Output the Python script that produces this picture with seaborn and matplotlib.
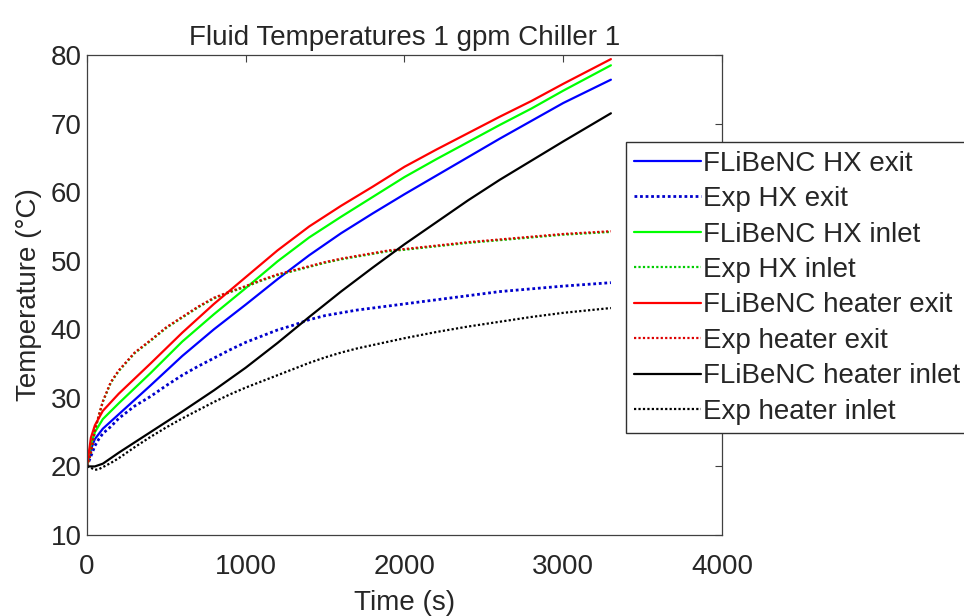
import numpy as np
import pandas as pd
import seaborn as sns
import matplotlib
matplotlib.use("Agg")
import matplotlib.pyplot as plt

# ---- data ----
t_model = [0, 25, 50, 100, 200, 400, 600, 800, 1000, 1200, 1400, 1600, 1800,
           2000, 2200, 2400, 2600, 2800, 3000, 3300]
hx_exit_model = [20, 22.5, 24, 25.5, 27.6, 31.8, 36.1, 40.0, 43.6, 47.3, 50.8, 54.0,
                 56.9, 59.7, 62.4, 65.1, 67.8, 70.4, 73.0, 76.4]
hx_inlet_model = [20, 23.3, 25, 26.9, 29.2, 33.6, 38.2, 42.2, 46.0, 49.9, 53.4, 56.4,
                  59.3, 62.2, 64.8, 67.3, 69.8, 72.2, 74.8, 78.5]
heater_exit_model = [20, 24.2, 26, 28.1, 30.6, 35.0, 39.5, 43.7, 47.6, 51.5, 55.0, 58.0,
                     60.8, 63.7, 66.2, 68.6, 71.0, 73.3, 75.8, 79.4]
heater_inlet_model = [20, 20, 20, 20.4, 22, 25, 28, 31.1, 34.4, 38.0, 41.8, 45.5,
                      49.0, 52.4, 55.6, 58.8, 61.8, 64.6, 67.4, 71.5]

t_exp = [0, 25, 50, 75, 100, 150, 200, 300, 400, 500, 600, 700, 800, 900, 1000,
         1100, 1200, 1300, 1400, 1500, 1600, 1700, 1800, 1900, 2000, 2200, 2400,
         2600, 2800, 3000, 3300]
hx_exit_exp = [20, 21.5, 23, 24, 24.8, 25.8, 27, 28.8, 30.2, 31.8, 33.3, 34.6, 35.8,
               37, 38.1, 39, 39.9, 40.6, 41.4, 42, 42.4, 42.8, 43.1, 43.4, 43.7,
               44.3, 44.9, 45.5, 45.9, 46.3, 46.8]
hx_inlet_exp = [20, 21.9, 25.1, 27.4, 29.4, 32.2, 33.9, 36.5, 38.3, 40.2, 41.7, 43.2,
                44.5, 45.4, 46.2, 47.1, 47.9, 48.5, 49.1, 49.7, 50.2, 50.6, 51.0,
                51.4, 51.6, 52.1, 52.6, 53.0, 53.4, 53.8, 54.2]
heater_exit_exp = [20, 22, 25.3, 27.5, 29.5, 32.3, 34, 36.6, 38.4, 40.3, 41.8, 43.3,
                   44.6, 45.5, 46.3, 47.2, 48, 48.6, 49.2, 49.8, 50.3, 50.7, 51.1,
                   51.5, 51.7, 52.2, 52.7, 53.1, 53.5, 53.9, 54.3]
heater_inlet_exp = [20, 19.8, 19.5, 19.6, 19.9, 20.5, 21.2, 22.8, 24.3, 25.7, 27,
                    28.2, 29.4, 30.5, 31.5, 32.4, 33.3, 34.2, 35.1, 35.9, 36.6, 37.2,
                    37.7, 38.2, 38.7, 39.6, 40.4, 41.1, 41.8, 42.4, 43.1]

series = [
    ("FLiBeNC HX exit", t_model, hx_exit_model, "#0000ff", "-"),
    ("Exp HX exit", t_exp, hx_exit_exp, "#0000cc", ":"),
    ("FLiBeNC HX inlet", t_model, hx_inlet_model, "#00ff00", "-"),
    ("Exp HX inlet", t_exp, hx_inlet_exp, "#00cc00", ":"),
    ("FLiBeNC heater exit", t_model, heater_exit_model, "#ff0000", "-"),
    ("Exp heater exit", t_exp, heater_exit_exp, "#dd0000", ":"),
    ("FLiBeNC heater inlet", t_model, heater_inlet_model, "#000000", "-"),
    ("Exp heater inlet", t_exp, heater_inlet_exp, "#000000", ":"),
]

sns.set_theme(style="white")
plt.rcParams["font.family"] = ["Liberation Sans", "DejaVu Sans"]

FS = 20
fig = plt.figure(figsize=(9.64, 6.16), dpi=100)
ax = fig.add_axes([0.0902, 0.1315, 0.749 - 0.0902, 0.9107 - 0.1315])

for label, t, y, c, ls in series:
    df = pd.DataFrame({"t": t, "y": y})
    if ls == ":":
        style = (0, (1.0, 1.0))
        lw = 2.0 if c == "#0000cc" else 1.6
    else:
        style = "-"
        lw = 1.6
    sns.lineplot(data=df, x="t", y="y", ax=ax, color=c, linestyle=style,
                 linewidth=lw, label=label, estimator=None, sort=False)

ax.set_xlim(0, 4000)
ax.set_ylim(10, 80)
ax.set_xticks([0, 1000, 2000, 3000, 4000])
ax.set_yticks([10, 20, 30, 40, 50, 60, 70, 80])
ax.tick_params(direction="in", top=True, right=True, length=5, width=0.8,
               labelsize=FS, colors="#404040", labelcolor="#262626", pad=4)
ax.tick_params(axis="x", pad=14)
ax.set_xlabel("Time (s)", fontsize=FS, color="#262626", labelpad=7)
ax.set_ylabel("Temperature (°C)", fontsize=FS, color="#262626", labelpad=6)
ax.set_title("Fluid Temperatures 1 gpm Chiller 1", fontsize=FS, color="#262626", pad=7)
for s in ax.spines.values():
    s.set_color("#404040")
    s.set_linewidth(0.9)

leg = ax.legend(loc="upper left", bbox_to_anchor=(0.649, 0.769),
                bbox_transform=fig.transFigure, borderaxespad=0, fontsize=FS,
                frameon=True, fancybox=False, edgecolor="#303030",
                framealpha=1, handlelength=2.4, handletextpad=0.1,
                labelspacing=0.34, borderpad=0.3)
leg.get_frame().set_linewidth(1.0)

fig.savefig("out.png", dpi=100)
